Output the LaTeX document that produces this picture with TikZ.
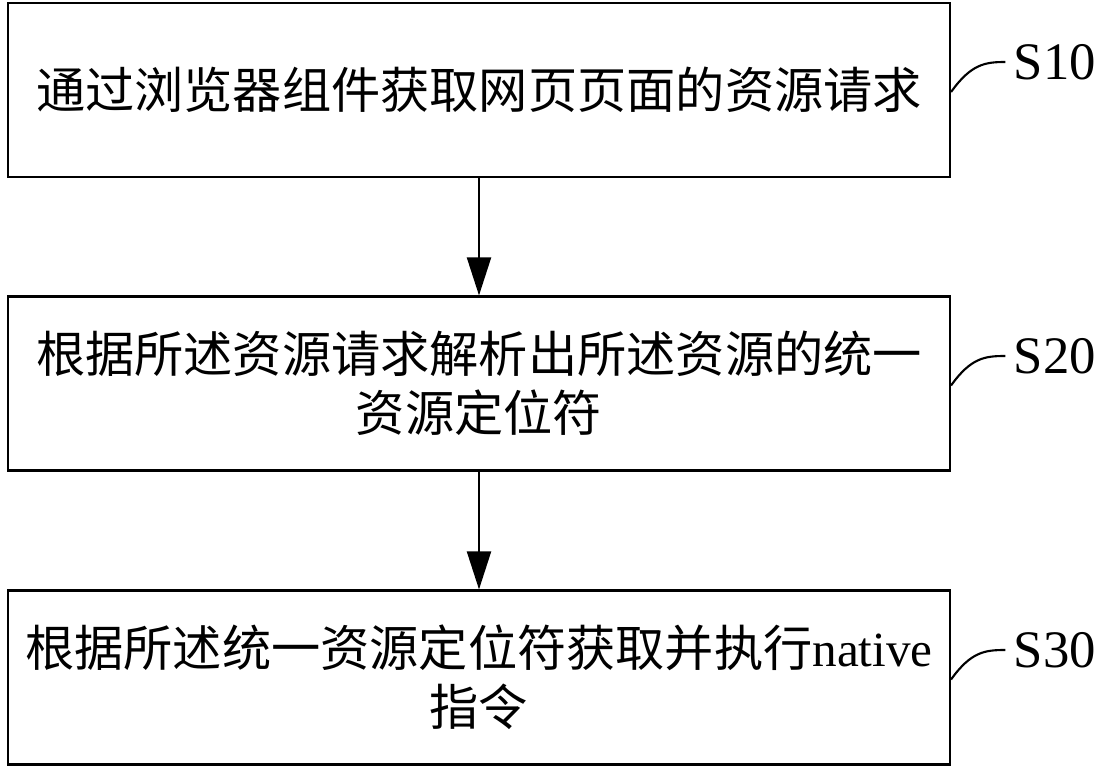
\documentclass[tikz,border=0pt]{standalone}
\usepackage{fontspec}
\setmainfont{Liberation Serif}
\newfontfamily\cjk{Noto Sans CJK SC}
\usetikzlibrary{arrows.meta, positioning}
\tikzset{stepbox/.style = {
  rectangle, draw=black, line width=0.6pt,
  minimum width=9.42cm, minimum height=1.74cm,
  inner sep=0pt, align=center,
  font=\cjk\fontsize{14}{16.8}\selectfont
  }}
\tikzset{arrow/.style = {
  -{Triangle[length=0.38cm,width=0.24cm]},
  line width=0.6pt, draw=black
  }}
\tikzset{tag/.style = {
  font=\fontsize{15}{18}\selectfont, inner sep=0pt
  }}
\tikzset{hook/.style = {line width=0.6pt}}
\begin{document}
\begin{tikzpicture}
\useasboundingbox (0,0) rectangle (10.94,-7.74);

% NODES
\node (s10) [stepbox] at (4.79,-0.90) {通过浏览器组件获取网页页面的资源请求};
\node (s20) [stepbox] at (4.79,-3.835) {根据所述资源请求解析出所述资源的统一\\资源定位符};
\node (s30) [stepbox] at (4.79,-6.775) {根据所述统一资源定位符获取并执行{\rmfamily native}\\指令};

\node (t10) [tag] at (10.55,-0.62) {S10};
\node (t20) [tag] at (10.55,-3.56) {S20};
\node (t30) [tag] at (10.55,-6.50) {S30};

% arrows
\draw [arrow] (s10) -- (s20);
\draw [arrow] (s20) -- (s30);

% hooks
\draw [hook] ([yshift=-0.02cm]s10.east) .. controls +(0.2,0.28) and +(-0.2,0) .. ([xshift=-0.08cm]t10.west);
\draw [hook] ([yshift=-0.02cm]s20.east) .. controls +(0.2,0.28) and +(-0.2,0) .. ([xshift=-0.08cm]t20.west);
\draw [hook] ([yshift=-0.02cm]s30.east) .. controls +(0.2,0.28) and +(-0.2,0) .. ([xshift=-0.08cm]t30.west);
\end{tikzpicture}
\end{document}
